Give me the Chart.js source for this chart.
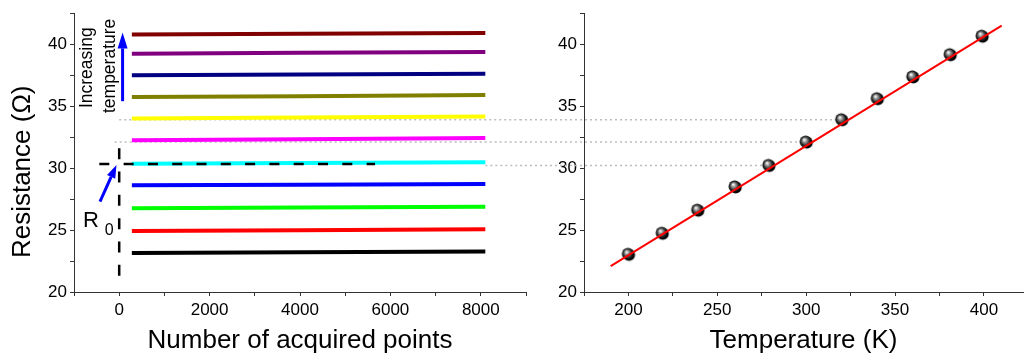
<!DOCTYPE html>
<html>
<head>
<meta charset="utf-8">
<script src="https://cdn.jsdelivr.net/npm/chart.js@4.4.0/dist/chart.umd.min.js"></script>
<style>
  html, body { margin: 0; padding: 0; background: #fff; }
  #wrap { position: relative; width: 1031px; height: 358px; overflow: hidden; }
  canvas { position: absolute; top: 0; }
  #left { left: 0; }
  #right { left: 520px; }
</style>
</head>
<body>
<div id="wrap">
  <canvas id="left" width="530" height="358"></canvas>
  <canvas id="right" width="511" height="358"></canvas>
</div>
<script>
// ---- left panel: resistance traces vs acquired points ----
const acqPoints = [280, 4000, 8100];
const trace200K = [23.14, 23.20, 23.26];
const trace220K = [24.93, 24.99, 25.06];
const trace240K = [26.75, 26.81, 26.88];
const trace260K = [28.61, 28.66, 28.72];
const trace280K = [30.35, 30.41, 30.48];
const trace300K = [32.24, 32.33, 32.42];
const trace320K = [34.00, 34.08, 34.16];
const trace340K = [35.73, 35.80, 35.89];
const trace360K = [37.50, 37.56, 37.62];
const trace380K = [39.23, 39.30, 39.36];
const trace400K = [40.78, 40.85, 40.90];
const traceColors = ['#000000', '#ff0000', '#00ff00', '#0000ff', '#00ffff', '#ff00ff',
                     '#ffff00', '#808000', '#000080', '#800080', '#800000'];

// ---- right panel: R0 vs temperature ----
const temps = [200, 219, 239, 260, 279, 300, 320, 340, 360, 381, 399];
const r0 = [23.04, 24.74, 26.60, 28.48, 30.21, 32.10, 33.90, 35.60, 37.36, 39.15, 40.64];
const fitT = [190, 410];
const fitR = [22.08, 41.50];

// ticks (labelled + minor)
const pointTicks = [-1000, 0, 1000, 2000, 3000, 4000, 5000, 6000, 7000, 8000, 9000];
const pointLabels = [0, 2000, 4000, 6000, 8000];
const tempTicks = [175, 200, 225, 250, 275, 300, 325, 350, 375, 400];
const tempLabels = [200, 250, 300, 350, 400];
const resTicks = [20, 22.5, 25, 27.5, 30, 32.5, 35, 37.5, 40, 42.5];
const resLabels = [20, 25, 30, 35, 40];

// dotted guide lines linking the two panels
const guideR = [33.9, 32.1, 30.2];
const guideStart = [0, -100, 8100];
const guideT = [320, 300, 280];

const SPLIT = 520; // page x where the right canvas begins

Chart.defaults.font.family = '"Liberation Sans", Arial, sans-serif';
Chart.defaults.color = '#000';

const traces = [trace200K, trace220K, trace240K, trace260K, trace280K, trace300K,
                trace320K, trace340K, trace360K, trace380K, trace400K];

function axisTicks(values, labels) {
  return {
    afterBuildTicks: s => { s.ticks = values.map(v => ({ value: v })); },
    ticks: { font: { size: 17 }, color: '#000', autoSkip: false, maxRotation: 0,
             callback: v => (labels.includes(v) ? String(v) : '') }
  };
}

function yAxis(width) {
  const t = axisTicks(resTicks, resLabels);
  t.ticks.padding = 3;
  return Object.assign(t, {
    type: 'linear', min: 20, max: 42.5,
    afterFit: s => { s.width = width; },
    grid: { drawOnChartArea: false, tickLength: 4, color: '#333' },
    border: { color: '#333', width: 1 }
  });
}

function xAxis(min, max, values, labels, title) {
  const t = axisTicks(values, labels);
  t.ticks.padding = 4;
  return Object.assign(t, {
    type: 'linear', min, max,
    afterFit: s => { s.height = 66; },
    grid: { drawOnChartArea: false, tickLength: 4, color: '#333' },
    border: { color: '#333', width: 1 },
    title: { display: true, text: title, font: { size: 26 }, color: '#000',
             padding: { top: 0, bottom: 2 } }
  });
}

function arrow(ctx, x1, y1, x2, y2, headLen, headW, lw, color) {
  const a = Math.atan2(y2 - y1, x2 - x1);
  const bx = x2 - headLen * Math.cos(a), by = y2 - headLen * Math.sin(a);
  ctx.save();
  ctx.strokeStyle = color; ctx.fillStyle = color; ctx.lineWidth = lw;
  ctx.beginPath(); ctx.moveTo(x1, y1); ctx.lineTo(bx, by); ctx.stroke();
  ctx.beginPath();
  ctx.moveTo(x2, y2);
  ctx.lineTo(bx + headW / 2 * Math.sin(a), by - headW / 2 * Math.cos(a));
  ctx.lineTo(bx - headW / 2 * Math.sin(a), by + headW / 2 * Math.cos(a));
  ctx.closePath(); ctx.fill();
  ctx.restore();
}

const leftAnno = {
  id: 'leftAnno',
  beforeDatasetsDraw(chart) {
    const { ctx, scales: { x, y } } = chart;
    ctx.save();
    ctx.strokeStyle = '#bdbdbd'; ctx.lineWidth = 1.5; ctx.setLineDash([2, 3]);
    guideR.forEach((r, i) => {
      const py = y.getPixelForValue(r);
      ctx.beginPath();
      ctx.moveTo(x.getPixelForValue(guideStart[i]), py);
      ctx.lineTo(SPLIT, py);
      ctx.stroke();
    });
    ctx.restore();
  },
  afterDatasetsDraw(chart) {
    const { ctx, scales: { x, y } } = chart;
    ctx.save();
    // R0 dashed markers
    ctx.strokeStyle = '#000'; ctx.lineWidth = 2.5; ctx.setLineDash([10, 14.3]);
    ctx.beginPath();
    ctx.moveTo(x.getPixelForValue(-440), y.getPixelForValue(30.32));
    ctx.lineTo(x.getPixelForValue(5660), y.getPixelForValue(30.32));
    ctx.stroke();
    ctx.setLineDash([11, 12.3]);
    ctx.beginPath();
    ctx.moveTo(x.getPixelForValue(0), y.getPixelForValue(31.6));
    ctx.lineTo(x.getPixelForValue(0), y.getPixelForValue(21.1));
    ctx.stroke();
    ctx.setLineDash([]);
    // arrows
    arrow(ctx, x.getPixelForValue(75), y.getPixelForValue(35.4),
          x.getPixelForValue(75), y.getPixelForValue(40.95), 16, 10, 3, '#0000ff');
    arrow(ctx, x.getPixelForValue(-425), y.getPixelForValue(27.3),
          x.getPixelForValue(-60), y.getPixelForValue(30.25), 13, 9, 3, '#0000ff');
    // texts
    ctx.fillStyle = '#000';
    ctx.font = '17.5px "Liberation Sans", Arial, sans-serif';
    ctx.textAlign = 'center'; ctx.textBaseline = 'middle';
    [['Increasing', -711, 38.1], ['temperature', -210, 38.25]].forEach(([t, vx, vy]) => {
      ctx.save();
      ctx.translate(x.getPixelForValue(vx), y.getPixelForValue(vy));
      ctx.rotate(-Math.PI / 2);
      ctx.fillText(t, 0, 0);
      ctx.restore();
    });
    ctx.textAlign = 'left'; ctx.textBaseline = 'alphabetic';
    ctx.font = '22px "Liberation Sans", Arial, sans-serif';
    ctx.fillText('R', x.getPixelForValue(-800), y.getPixelForValue(25.28));
    ctx.font = '16px "Liberation Sans", Arial, sans-serif';
    ctx.fillText('0', x.getPixelForValue(-320), y.getPixelForValue(24.56));
    // y-axis title
    ctx.font = '26px "Liberation Sans", Arial, sans-serif';
    ctx.textAlign = 'center'; ctx.textBaseline = 'middle';
    ctx.translate(y.left + 23, y.getPixelForValue(29.7));
    ctx.rotate(-Math.PI / 2);
    ctx.fillText('Resistance (\u03A9)', 0, 0);
    ctx.restore();
  }
};

new Chart(document.getElementById('left'), {
  type: 'line',
  data: {
    datasets: traces.map((tr, i) => ({
      data: acqPoints.map((p, j) => ({ x: p, y: tr[j] })),
      borderColor: traceColors[i],
      borderWidth: 4,
      pointRadius: 0,
      tension: 0
    }))
  },
  options: {
    responsive: false,
    animation: false,
    layout: { padding: { top: 10, right: 2, left: 0, bottom: 0 } },
    plugins: { legend: { display: false }, tooltip: { enabled: false } },
    scales: {
      x: xAxis(-1000, 9000, pointTicks, pointLabels, 'Number of acquired points'),
      y: yAxis(74)
    }
  },
  plugins: [leftAnno]
});

// shaded sphere marker
function sphere(r) {
  const c = document.createElement('canvas');
  const s = 2 * r + 4;
  c.width = c.height = s;
  const g = c.getContext('2d');
  g.fillStyle = '#000';
  g.beginPath(); g.arc(r + 2.6, r + 2.6, r, 0, Math.PI * 2); g.fill();
  const grad = g.createRadialGradient(r, r - 0.5, 0.3, r + 1.5, r + 1.5, r);
  grad.addColorStop(0, '#ffffff');
  grad.addColorStop(0.3, '#9a9a9a');
  grad.addColorStop(0.75, '#222');
  grad.addColorStop(1, '#000');
  g.fillStyle = grad;
  g.beginPath(); g.arc(r + 1.5, r + 1.5, r, 0, Math.PI * 2); g.fill();
  return c;
}

const rightAnno = {
  id: 'rightAnno',
  beforeDatasetsDraw(chart) {
    const { ctx, scales: { x, y } } = chart;
    ctx.save();
    ctx.strokeStyle = '#bdbdbd'; ctx.lineWidth = 1.5; ctx.setLineDash([2, 3]);
    guideR.forEach((r, i) => {
      const py = y.getPixelForValue(r);
      ctx.beginPath();
      ctx.moveTo(0, py);
      ctx.lineTo(x.getPixelForValue(guideT[i]), py);
      ctx.stroke();
    });
    ctx.restore();
  }
};

new Chart(document.getElementById('right'), {
  type: 'line',
  data: {
    datasets: [
      {
        data: fitT.map((t, i) => ({ x: t, y: fitR[i] })),
        borderColor: '#ff0000', borderWidth: 2, pointRadius: 0, tension: 0, order: 0
      },
      {
        data: temps.map((t, i) => ({ x: t, y: r0[i] })),
        showLine: false, pointStyle: sphere(6), pointRadius: 7, order: 1
      }
    ]
  },
  options: {
    responsive: false,
    animation: false,
    layout: { padding: { top: 10, right: 0, left: 0, bottom: 0 } },
    plugins: { legend: { display: false }, tooltip: { enabled: false } },
    scales: {
      x: xAxis(175, 422, tempTicks, tempLabels, 'Temperature (K)'),
      y: yAxis(64)
    }
  },
  plugins: [rightAnno]
});
</script>
</body>
</html>
